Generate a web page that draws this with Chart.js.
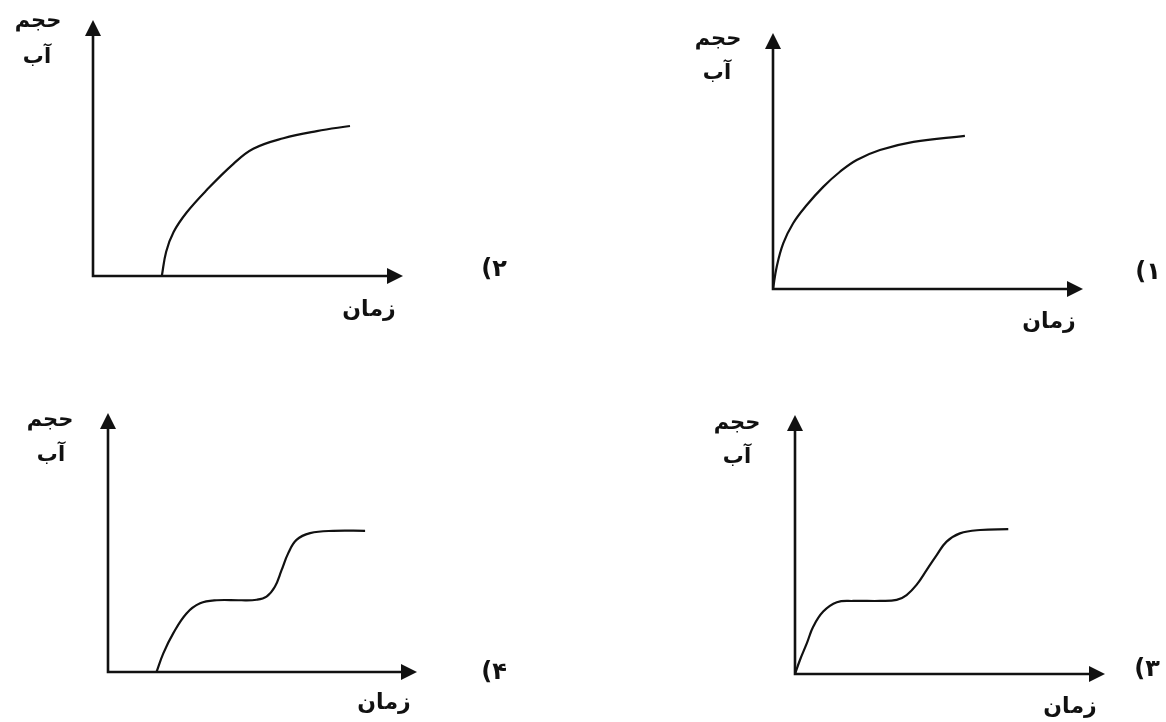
<!DOCTYPE html>
<html>
<head>
<meta charset="utf-8">
<script src="https://cdn.jsdelivr.net/npm/chart.js@4/dist/chart.umd.min.js"></script>
<style>
  html, body { margin: 0; padding: 0; background: #ffffff; }
  #wrap { position: relative; width: 1166px; height: 722px; overflow: hidden; }
  canvas { position: absolute; }
</style>
</head>
<body>
<div id="wrap">
  <canvas id="c1" width="583" height="361" style="left:583px;top:0px"></canvas>
  <canvas id="c2" width="583" height="361" style="left:0px;top:0px"></canvas>
  <canvas id="c3" width="583" height="361" style="left:583px;top:361px"></canvas>
  <canvas id="c4" width="583" height="361" style="left:0px;top:361px"></canvas>
</div>
<script>
// ---- Data (arbitrary units 0..10) ----
const optionNumbers = ['۱', '۲', '۳', '۴'];
const yAxisLabel = ['حجم', 'آب'];
const xAxisLabel = 'زمان';

// Option 1: starts at origin, rises and levels off
const time1   = [0, 0.12, 0.33, 0.65, 1.09, 1.62, 2.16, 2.70, 3.45, 4.53, 6.19];
const volume1 = [0, 0.87, 1.78, 2.57, 3.28, 3.99, 4.58, 5.04, 5.43, 5.75, 5.98];

// Option 2: starts after a delay, rises and levels off
const time2   = [2.22, 2.36, 2.60, 3.02, 3.67, 4.53, 5.17, 6.14, 7.22, 8.29];
const volume2 = [0, 0.95, 1.72, 2.48, 3.36, 4.38, 4.97, 5.38, 5.66, 5.86];

// Option 3: starts at origin, two-step rise
const time3   = [0, 0.16, 0.38, 0.59, 0.91, 1.35, 1.88, 2.74, 3.28, 3.60, 3.92, 4.25, 4.57, 4.89, 5.32, 5.97, 6.88];
const volume3 = [0, 0.54, 1.18, 1.83, 2.41, 2.77, 2.82, 2.82, 2.86, 3.05, 3.44, 4.02, 4.59, 5.11, 5.43, 5.56, 5.59];

// Option 4: starts after a delay, two-step rise
const time4   = [1.57, 1.79, 2.11, 2.54, 2.98, 3.52, 4.27, 4.81, 5.13, 5.40, 5.62, 5.83, 6.10, 6.54, 7.29, 8.32];
const volume4 = [0, 0.72, 1.49, 2.26, 2.65, 2.77, 2.77, 2.79, 2.91, 3.29, 3.94, 4.58, 5.10, 5.36, 5.45, 5.45];

// ---- Layout (canvas-relative) ----
const panels = [
  { id: 'c1', time: time1, volume: volume1, num: 0, pad: { left: 190, top: 33, right: 83, bottom: 72 }, offX: 583, offY: 0,
    lab: { y1: [718, 40], y2: [717, 74], x: [1049, 322], n: [1148, 273] } },
  { id: 'c2', time: time2, volume: volume2, num: 1, pad: { left: 93, top: 20, right: 180, bottom: 85 }, offX: 0, offY: 0,
    lab: { y1: [38, 22], y2: [37, 58], x: [369, 310], n: [494, 270] } },
  { id: 'c3', time: time3, volume: volume3, num: 2, pad: { left: 212, top: 54, right: 61, bottom: 48 }, offX: 583, offY: 361,
    lab: { y1: [737, 424], y2: [737, 458], x: [1070, 707], n: [1147, 670] } },
  { id: 'c4', time: time4, volume: volume4, num: 3, pad: { left: 108, top: 52, right: 166, bottom: 50 }, offX: 0, offY: 361,
    lab: { y1: [50, 421], y2: [51, 456], x: [384, 703], n: [494, 673] } }
];

const axesArrows = {
  id: 'axesArrows',
  beforeDatasetsDraw(chart) {
    const ctx = chart.ctx;
    const xs = chart.scales.x, ys = chart.scales.y;
    const ox = xs.getPixelForValue(0), oy = ys.getPixelForValue(0);
    const tipX = xs.getPixelForValue(xs.max), tipY = ys.getPixelForValue(ys.max);
    const L = 16, W = 8;
    ctx.save();
    ctx.strokeStyle = '#111';
    ctx.fillStyle = '#111';
    ctx.lineWidth = 2.6;
    ctx.beginPath();
    ctx.moveTo(ox, tipY + L - 1);
    ctx.lineTo(ox, oy);
    ctx.lineTo(tipX - L + 1, oy);
    ctx.stroke();
    ctx.beginPath();
    ctx.moveTo(ox, tipY);
    ctx.lineTo(ox - W, tipY + L);
    ctx.lineTo(ox + W, tipY + L);
    ctx.closePath();
    ctx.fill();
    ctx.beginPath();
    ctx.moveTo(tipX, oy);
    ctx.lineTo(tipX - L, oy - W);
    ctx.lineTo(tipX - L, oy + W);
    ctx.closePath();
    ctx.fill();
    ctx.restore();
  }
};

const textLabels = {
  id: 'textLabels',
  afterDraw(chart, args, opts) {
    const ctx = chart.ctx;
    const p = opts.panel;
    const put = (txt, pos, font, dir) => {
      ctx.font = font;
      ctx.direction = dir;
      ctx.fillText(txt, pos[0] - p.offX, pos[1] - p.offY);
    };
    ctx.save();
    ctx.fillStyle = '#111';
    ctx.textAlign = 'center';
    ctx.textBaseline = 'middle';
    put(yAxisLabel[0], p.lab.y1, 'bold 21px "DejaVu Sans"', 'rtl');
    put(yAxisLabel[1], p.lab.y2, 'bold 21px "DejaVu Sans"', 'rtl');
    put(xAxisLabel, p.lab.x, 'bold 22px "DejaVu Sans"', 'rtl');
    put('(' + optionNumbers[p.num], p.lab.n, 'bold 24px "DejaVu Sans"', 'ltr');
    ctx.restore();
  }
};

panels.forEach(p => {
  new Chart(document.getElementById(p.id), {
    type: 'line',
    data: {
      datasets: [{
        data: p.time.map((t, i) => ({ x: t, y: p.volume[i] })),
        borderColor: '#111',
        borderWidth: 2.2,
        pointRadius: 0,
        fill: false,
        tension: 0.4
      }]
    },
    options: {
      responsive: false,
      animation: false,
      layout: { padding: p.pad },
      scales: {
        x: { type: 'linear', min: 0, max: 10, display: false },
        y: { type: 'linear', min: 0, max: 10, display: false }
      },
      plugins: {
        legend: { display: false },
        tooltip: { enabled: false },
        textLabels: { panel: p }
      },
      events: []
    },
    plugins: [axesArrows, textLabels]
  });
});
</script>
</body>
</html>
